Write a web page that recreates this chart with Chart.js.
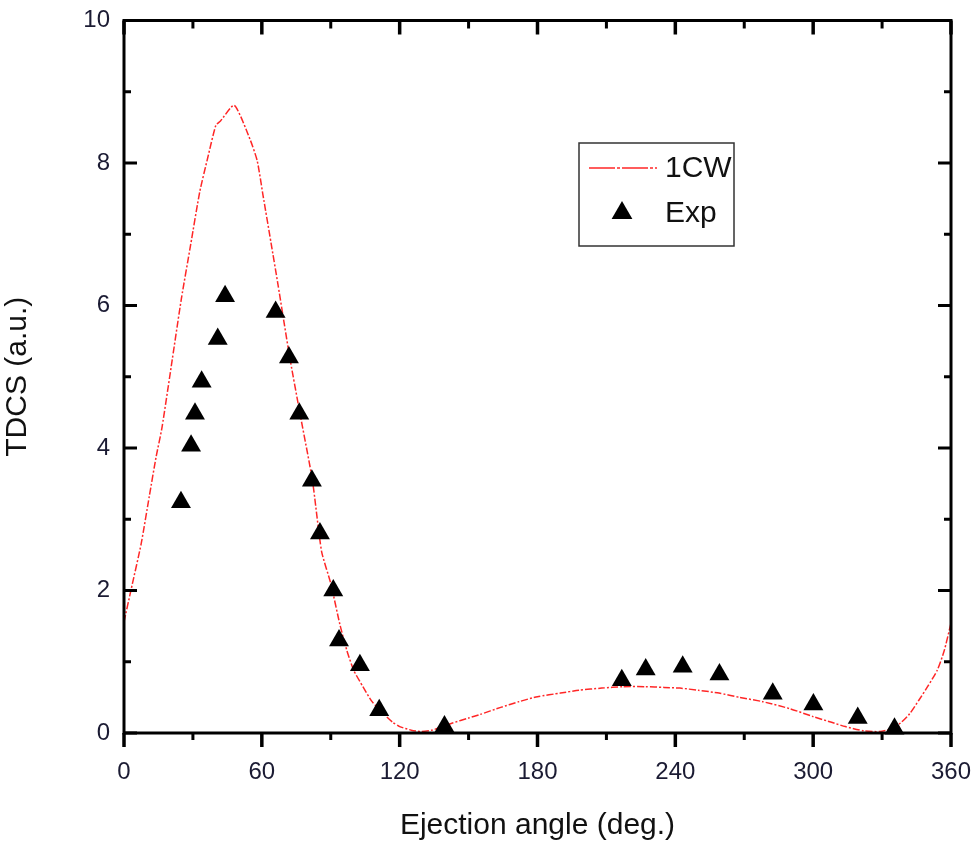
<!DOCTYPE html>
<html><head><meta charset="utf-8">
<script src="https://cdn.jsdelivr.net/npm/chart.js@4.4.0/dist/chart.umd.min.js"></script>
<style>html,body{margin:0;padding:0;background:#fff;} #wrap{width:975px;height:848px;}</style>
</head><body><div id="wrap"><canvas id="c" width="975" height="848"></canvas></div>
<script>
// ---- data ----
const curveLabel = '1CW';
const curveAngles = [0,3,7.5,11,14,16.5,21,25,29,33,36.5,40,42,48,55,58,60.5,64,67,72,76.5,82,86,90,94,97,100,104,108,113,117,120,125,129,134,138,143,150,155,164,172,180,190,198,208,217,227,235,242,250,259,268,278,290,300,308,314,322,329,334,338,342,346,350,354,357,360];
const curveValues = [1.56,2.0,2.66,3.32,3.88,4.28,5.24,6.1,6.85,7.6,8.08,8.53,8.59,8.81,8.32,8.03,7.55,6.88,6.3,5.3,4.5,3.55,2.55,2.1,1.52,1.16,0.88,0.65,0.44,0.27,0.15,0.09,0.04,0.02,0.04,0.08,0.14,0.21,0.26,0.36,0.44,0.51,0.56,0.60,0.63,0.65,0.65,0.64,0.63,0.60,0.56,0.50,0.44,0.34,0.23,0.15,0.09,0.03,0.02,0.06,0.14,0.27,0.46,0.66,0.88,1.15,1.54];
const expLabel = 'Exp';
const expAngles = [24.8,29.2,30.9,33.8,40.8,44.0,66.0,71.8,76.3,81.8,85.3,91.1,93.6,102.7,111.1,139.5,216.7,227.1,243.2,259.2,282.4,300.1,319.4,335.4];
const expValues = [3.24,4.03,4.48,4.93,5.53,6.13,5.91,5.27,4.48,3.54,2.80,2.00,1.30,0.95,0.32,0.09,0.74,0.89,0.93,0.82,0.55,0.40,0.21,0.06];
const xTickValues = [0,60,120,180,240,300,360];
const yTickValues = [0,2,4,6,8,10];
const xTitle = 'Ejection angle (deg.)';
const yTitle = 'TDCS (a.u.)';

const FONT = '"Liberation Sans", Arial, sans-serif';
const RED = 'rgba(255,0,0,0.85)';

const framePlugin = {
  id: 'frame',
  afterDraw(chart) {
    const ctx = chart.ctx, a = chart.chartArea;
    const xs = chart.scales.x, ys = chart.scales.y;
    ctx.save();
    ctx.strokeStyle = '#000';
    ctx.lineWidth = 3;
    ctx.lineCap = 'butt';
    ctx.strokeRect(a.left, a.top, a.right - a.left, a.bottom - a.top);
    // x ticks: bottom outward, top inward
    for (let v = xs.min; v <= xs.max + 1e-9; v += 30) {
      const px = xs.getPixelForValue(v);
      const major = (Math.round(v) % 60) === 0;
      const L = major ? 14 : 7;
      ctx.lineWidth = major ? 3.5 : 3;
      ctx.beginPath();
      ctx.moveTo(px, a.bottom); ctx.lineTo(px, a.bottom + L);
      ctx.moveTo(px, a.top); ctx.lineTo(px, a.top + (major ? 14 : 8));
      ctx.stroke();
    }
    // y ticks: inward on both sides
    for (let v = ys.min; v <= ys.max + 1e-9; v += 1) {
      const py = ys.getPixelForValue(v);
      const major = (Math.round(v) % 2) === 0;
      const L = major ? 13 : 7;
      ctx.lineWidth = 3;
      ctx.beginPath();
      ctx.moveTo(a.left, py); ctx.lineTo(a.left + L, py);
      ctx.moveTo(a.right, py); ctx.lineTo(a.right - L, py);
      ctx.stroke();
    }
    // legend
    const ds = chart.data.datasets;
    ctx.lineWidth = 1.5;
    ctx.strokeStyle = '#333';
    ctx.strokeRect(579, 143, 155, 103);
    ctx.strokeStyle = RED;
    ctx.lineWidth = 1.5;
    ctx.setLineDash([26, 2, 3, 2]);
    ctx.beginPath(); ctx.moveTo(589, 168); ctx.lineTo(657, 168); ctx.stroke();
    ctx.setLineDash([]);
    ctx.fillStyle = '#000';
    const r = 12, cx = 622, cy = 213;
    ctx.beginPath();
    ctx.moveTo(cx, cy - r);
    ctx.lineTo(cx + r * Math.sin(2 * Math.PI / 3), cy - r * Math.cos(2 * Math.PI / 3));
    ctx.lineTo(cx + r * Math.sin(4 * Math.PI / 3), cy - r * Math.cos(4 * Math.PI / 3));
    ctx.closePath(); ctx.fill();
    ctx.font = '30px ' + FONT;
    ctx.fillStyle = '#111';
    ctx.textBaseline = 'middle';
    ctx.textAlign = 'left';
    ctx.fillText(ds[0].label, 665, 169);
    ctx.fillText(ds[1].label, 665, 214);
    ctx.restore();
  }
};

new Chart(document.getElementById('c'), {
  type: 'scatter',
  data: {
    datasets: [
      {
        type: 'line',
        label: curveLabel,
        data: curveAngles.map((x, i) => ({x, y: curveValues[i]})),
        borderColor: RED,
        borderWidth: 1.5,
        borderDash: [7, 2, 2, 2],
        pointRadius: 0,
        fill: false,
        tension: 0.2,
        order: 2
      },
      {
        label: expLabel,
        data: expAngles.map((x, i) => ({x, y: expValues[i]})),
        pointStyle: 'triangle',
        pointRadius: 11.5,
        pointHoverRadius: 11.5,
        backgroundColor: '#000',
        borderColor: '#000',
        borderWidth: 0,
        clip: false,
        order: 1
      }
    ]
  },
  options: {
    responsive: false,
    animation: false,
    devicePixelRatio: 1,
    layout: { padding: { top: 20.5, right: 24, bottom: 0, left: 0 } },
    plugins: { legend: { display: false }, tooltip: { enabled: false } },
    scales: {
      x: {
        type: 'linear', min: 0, max: 360,
        afterFit(s) { s.height = 115; s.paddingLeft = 0; s.paddingRight = 0; },
        afterBuildTicks(s) { s.ticks = xTickValues.map(v => ({value: v})); },
        grid: { display: false, drawTicks: false },
        border: { display: false },
        ticks: { padding: 25, color: '#1b1b33', font: { family: FONT, size: 24 } },
        title: { display: true, text: xTitle, color: '#111', font: { family: FONT, size: 30 }, padding: { top: 0, bottom: 4 } }
      },
      y: {
        type: 'linear', min: 0, max: 10,
        afterFit(s) { s.width = 124; s.paddingTop = 0; s.paddingBottom = 0; },
        afterBuildTicks(s) { s.ticks = yTickValues.map(v => ({value: v})); },
        grid: { display: false, drawTicks: false },
        border: { display: false },
        ticks: { padding: 14, color: '#1b1b33', font: { family: FONT, size: 24 } },
        title: { display: true, text: yTitle, color: '#111', font: { family: FONT, size: 30 }, padding: { top: 0, bottom: 6 } }
      }
    }
  },
  plugins: [framePlugin]
});
</script>
</body></html>
